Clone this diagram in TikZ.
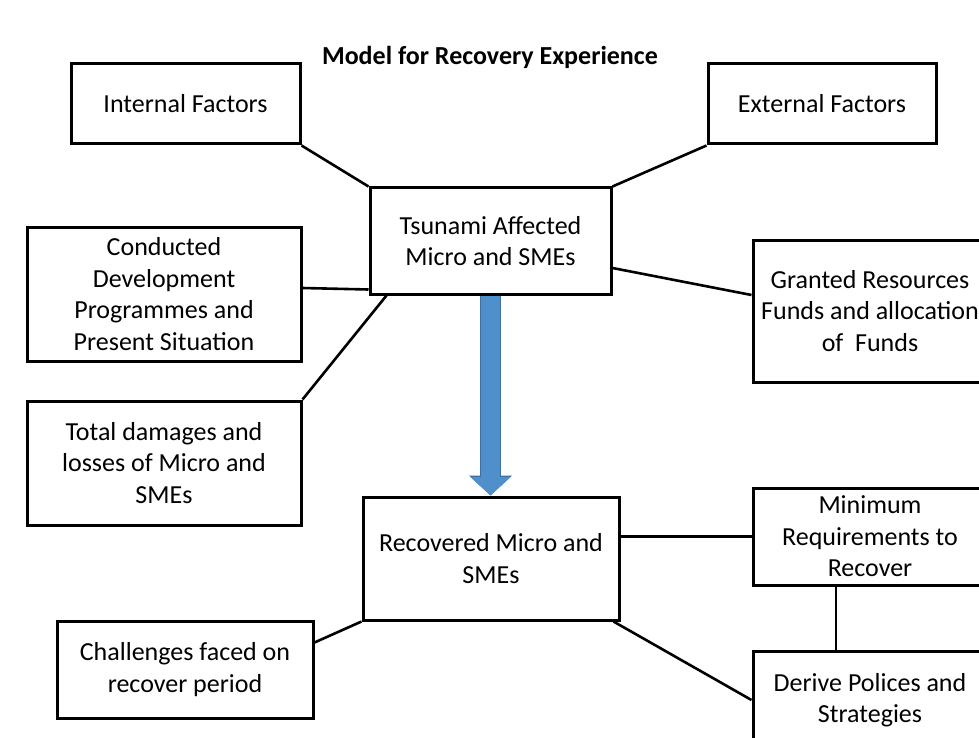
\documentclass[tikz,border=0pt]{standalone}
\usepackage{fontspec}
\setmainfont{Carlito}
\usepackage{tikz}
\usetikzlibrary{arrows.meta,positioning}

\definecolor{flowblue}{RGB}{79,143,204}
\definecolor{flowedge}{RGB}{62,112,160}

\begin{document}
\begin{tikzpicture}[
    x=1pt, y=-1pt,
    font=\fontsize{26pt}{31.5pt}\selectfont,
    box/.style={rectangle, draw, line width=3pt, fill=white, align=center, inner sep=2pt},
    link/.style={draw, line width=2.6pt},
    flow/.style={draw=flowblue, line width=19pt, -{Triangle[width=39pt,length=18.5pt]},
        preaction={draw=flowedge, line width=21.5pt, -{Triangle[width=42pt,length=20pt]}}}
]
    \useasboundingbox (0,0) rectangle (979,738);
    \clip (0,0) rectangle (979,738);

    % Heading
    \node[font=\fontsize{26pt}{31.5pt}\selectfont\bfseries] (title) at (490,57) {Model for Recovery Experience};

    % Factors on top
    \node[box, minimum width=229pt, minimum height=80pt] (int) at (185.5,104) {Internal Factors};
    \node[box, minimum width=228pt, minimum height=80pt, right=405pt of int] (ext) {External Factors};

    % Affected businesses and their context
    \node[box, minimum width=241pt, minimum height=106pt] (tsu) at (490.5,241) {Tsunami Affected\\Micro and SMEs};
    \node[box, minimum width=274pt, minimum height=134pt] (cond) at (164,294) {Conducted\\Development\\Programmes and\\Present Situation};
    \node[box, minimum width=274pt, minimum height=124pt, below=37pt of cond] (dmg) {Total damages and\\losses of Micro and\\SMEs};
    \node[box, minimum width=234pt, minimum height=142pt] (grant) at (870,311) {Granted Resources\\Funds and allocation\\of\ \ Funds};

    % Recovery side
    \node[box, minimum width=256pt, minimum height=123pt] (rec) at (491,558.5) {Recovered Micro and\\SMEs};
    \node[box, minimum width=234pt, minimum height=97pt] (minr) at (870,536.5) {Minimum\\Requirements to\\Recover};
    \node[box, minimum width=234pt, minimum height=98pt, below=63pt of minr] (derive) {Derive Polices and\\Strategies};
    \node[box, minimum width=256pt, minimum height=97pt] (chal) at (185,669.5) {Challenges faced on\\recover period};

    % Connections
    \draw[link] (int.south east) -- (tsu.north west);
    \draw[link] (ext.south west) -- (tsu.north east);
    \draw[link] ([yshift=6pt]cond.east) -- ([yshift=6pt]tsu.south west);
    \draw[link] ([xshift=18pt]tsu.south west) -- (dmg.north east);
    \draw[link] ([yshift=-27pt]tsu.east) -- ([yshift=16pt]grant.west);
    \draw[flow] (tsu.south) -- (tsu.south |- rec.north);
    \draw[link] (minr.west -| rec.east) -- (minr.west);
    \draw[link] ([xshift=-34pt]minr.south) -- ([xshift=-34pt]derive.north);
    \draw[link] ([xshift=-7pt]rec.south east) -- (derive.west);
    \draw[link] ([yshift=27pt]chal.east) -- (rec.south west);
\end{tikzpicture}
\end{document}
